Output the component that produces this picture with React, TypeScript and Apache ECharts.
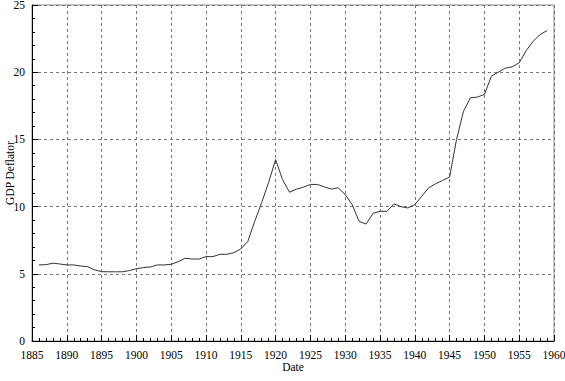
import React, { useEffect, useRef } from "react";
import * as echarts from "echarts";

const years: number[] = [
  1886, 1887, 1888, 1889, 1890, 1891, 1892, 1893, 1894, 1895,
  1896, 1897, 1898, 1899, 1900, 1901, 1902, 1903, 1904, 1905,
  1906, 1907, 1908, 1909, 1910, 1911, 1912, 1913, 1914, 1915,
  1916, 1917, 1918, 1919, 1920, 1921, 1922, 1923, 1924, 1925,
  1926, 1927, 1928, 1929, 1930, 1931, 1932, 1933, 1934, 1935,
  1936, 1937, 1938, 1939, 1940, 1941, 1942, 1943, 1944, 1945,
  1946, 1947, 1948, 1949, 1950, 1951, 1952, 1953, 1954, 1955,
  1956, 1957, 1958, 1959,
];

const gdpDeflator: number[] = [
  5.66, 5.68, 5.79, 5.73, 5.66, 5.66, 5.58, 5.53, 5.29, 5.16,
  5.15, 5.15, 5.15, 5.24, 5.38, 5.46, 5.51, 5.66, 5.66, 5.71,
  5.9, 6.16, 6.1, 6.1, 6.28, 6.28, 6.45, 6.45, 6.57, 6.85,
  7.4, 8.9, 10.3, 11.8, 13.5, 12.0, 11.07, 11.3, 11.45, 11.65,
  11.65, 11.47, 11.3, 11.4, 10.9, 10.15, 8.9, 8.7, 9.5, 9.65,
  9.65, 10.2, 10.0, 9.9, 10.15, 10.77, 11.4, 11.7, 11.95, 12.2,
  15.0, 17.1, 18.1, 18.15, 18.35, 19.7, 20.0, 20.3, 20.4, 20.7,
  21.6, 22.3, 22.8, 23.1,
];

const xTitle = "Date";
const yTitle = "GDP Deflator";

export default function App() {
  const ref = useRef<HTMLDivElement>(null);
  useEffect(() => {
    if (!ref.current) return;
    const chart = echarts.init(ref.current, null, { renderer: "svg" });
    const font = "Liberation Serif";
    const axisCommon = {
      axisLine: { show: true, lineStyle: { color: "#000", width: 1 } },
      axisTick: { show: true, inside: true, length: 6, lineStyle: { color: "#000" } },
      minorTick: { show: true, splitNumber: 5, length: 3, lineStyle: { color: "#000" } },
      splitLine: { show: true, lineStyle: { color: "#777", type: [3, 3], width: 1 } },
      axisLabel: { color: "#000", fontFamily: font, fontSize: 11.5 },
      nameTextStyle: { color: "#000", fontFamily: font, fontSize: 11.5 },
      nameMoveOverlap: false,
    };
    chart.setOption({
      animation: false,
      backgroundColor: "#fff",
      grid: {
        left: 32,
        right: 11,
        top: 5,
        bottom: 40,
        show: true,
        borderColor: "#888",
        borderWidth: 1,
        containLabel: false,
        outerBoundsMode: "none",
      },
      xAxis: {
        type: "value",
        min: 1885,
        max: 1960,
        interval: 5,
        name: xTitle,
        nameLocation: "middle",
        nameGap: 20,
        ...axisCommon,
        axisLabel: { ...axisCommon.axisLabel, margin: 8, formatter: (v: number) => String(v) },
      },
      yAxis: {
        type: "value",
        min: 0,
        max: 25,
        interval: 5,
        name: yTitle,
        nameLocation: "middle",
        nameGap: 16,
        nameRotate: 90,
        ...axisCommon,
        axisLabel: { ...axisCommon.axisLabel, margin: 7 },
      },
      series: [
        {
          type: "line",
          data: years.map((y, i) => [y, gdpDeflator[i]]),
          showSymbol: false,
          symbol: "none",
          lineStyle: { color: "#333", width: 1 },
        },
      ],
    });
    return () => chart.dispose();
  }, []);
  return (
    <div
      ref={ref}
      style={{ position: "fixed", left: 0, top: 0, width: 565, height: 381 }}
    />
  );
}
